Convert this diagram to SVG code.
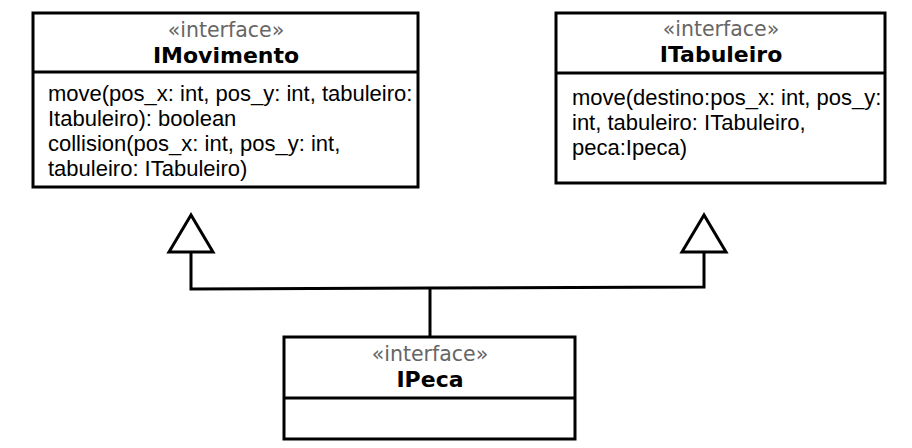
<svg xmlns="http://www.w3.org/2000/svg" width="912" height="448" viewBox="0 0 912 448">
<style>
.box{fill:#fff;stroke:#000;stroke-width:3}
.div{stroke:#000;stroke-width:3}
.st{font-family:"DejaVu Sans",Verdana,sans-serif;font-size:20.5px;fill:#666;text-anchor:middle}
.ti{font-family:"DejaVu Sans",Verdana,sans-serif;font-size:22px;font-weight:bold;fill:#000;text-anchor:middle}
.m{font-family:"Liberation Sans",Arial,sans-serif;font-size:22px;fill:#000}
.c{fill:none;stroke:#000;stroke-width:3}
.tri{fill:#fff;stroke:#000;stroke-width:3;stroke-linejoin:miter}
</style>
<rect width="912" height="448" fill="#fff"/>
<g id="IMovimento">
<rect class="box" x="33" y="13" width="385" height="174"/>
<line class="div" x1="33" y1="72" x2="418" y2="72"/>
<text class="st" x="226" y="37">«interface»</text>
<text class="ti" x="226" y="63">IMovimento</text>
<text class="m" x="48" y="101">move(pos_x: int, pos_y: int, tabuleiro:</text>
<text class="m" x="48" y="126">Itabuleiro): boolean</text>
<text class="m" x="48" y="151">collision(pos_x: int, pos_y: int,</text>
<text class="m" x="48" y="176">tabuleiro: ITabuleiro)</text>
</g>
<g id="ITabuleiro">
<rect class="box" x="556" y="13" width="329" height="170"/>
<line class="div" x1="556" y1="73" x2="885" y2="73"/>
<text class="st" x="721" y="36">«interface»</text>
<text class="ti" x="721" y="62">ITabuleiro</text>
<text class="m" x="572" y="105">move(destino:pos_x: int, pos_y:</text>
<text class="m" x="572" y="130">int, tabuleiro: ITabuleiro,</text>
<text class="m" x="572" y="155">peca:Ipeca)</text>
</g>
<g id="IPeca">
<rect class="box" x="284" y="337" width="291" height="102"/>
<line class="div" x1="284" y1="398" x2="575" y2="398"/>
<text class="st" x="430" y="361">«interface»</text>
<text class="ti" x="430" y="387">IPeca</text>
</g>
<g id="connectors">
<polyline class="c" points="430,337 430,288"/>
<polyline class="c" points="191,252 191,289 430,288 704,287 704,252"/>
<polygon class="tri" points="191,215 169,252 213,252"/>
<polygon class="tri" points="704,215 682,252 726,252"/>
</g>
</svg>
